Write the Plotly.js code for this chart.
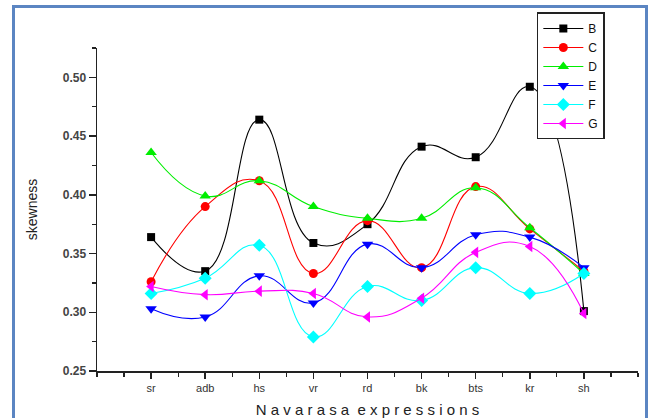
<!DOCTYPE html>
<html><head><meta charset="utf-8">
<script src="https://cdn.plot.ly/plotly-3.0.1.min.js"></script>
<style>
html,body{margin:0;padding:0;background:#fff;}
#wrap{position:relative;width:651px;height:418px;overflow:hidden;}
#chart{position:absolute;left:0;top:0;width:651px;height:418px;}
#frame{position:absolute;left:12px;top:5px;width:630px;height:430px;border:3px solid #5b85c2;pointer-events:none;}
</style></head>
<body><div id="wrap"><div id="chart"></div><div id="frame"></div></div>
<script>
const categories = ["sr","adb","hs","vr","rd","bk","bts","kr","sh"];
const B = [0.364,0.335,0.464,0.359,0.375,0.441,0.432,0.492,0.301];
const C = [0.326,0.390,0.412,0.333,0.378,0.338,0.407,0.371,0.335];
const D = [0.436,0.399,0.412,0.390,0.380,0.380,0.406,0.372,0.333];
const E = [0.303,0.296,0.331,0.308,0.358,0.338,0.366,0.364,0.338];
const F = [0.316,0.329,0.357,0.279,0.322,0.310,0.338,0.316,0.333];
const G = [0.322,0.315,0.318,0.316,0.296,0.312,0.351,0.356,0.299];

const seriesNames = ["B","C","D","E","F","G"];
const seriesData = [B,C,D,E,F,G];
const colors = ["#000000","#ff0000","#00ee00","#0000ff","#00ffff","#ff00ff"];
const symbols = ["square","circle","triangle-up","triangle-down","diamond","triangle-left"];
const sizes = [8,9,10,10,10,10];
const idx = categories.map((c,i)=>i);

const traces = seriesData.map((d,k)=>({
  x: idx, y: d, name: seriesNames[k], type:'scatter', mode:'lines+markers',
  line:{color:colors[k], width:1.1, shape:'spline', smoothing:1.3},
  marker:{color:colors[k], symbol:symbols[k], size:sizes[k], line:{width:0}}
}));

const tf = {family:'Arial, Liberation Sans', size:12, color:'#444', weight:'bold'};
const layout = {
  width:651, height:418,
  margin:{l:97, r:13, t:43, b:47},
  paper_bgcolor:'#fff', plot_bgcolor:'#fff',
  showlegend:true,
  legend:{x:0.813, y:1.11, xanchor:'left', yanchor:'top', bgcolor:'#fff',
    bordercolor:'#222', borderwidth:1.5, font:{family:'Arial, Liberation Sans', size:12, color:'#111'},
    itemwidth:40, tracegroupgap:0},
  xaxis:{range:[-1,9], tickmode:'array', tickvals:idx, ticktext:categories,
    showgrid:false, zeroline:false, showline:true, linecolor:'#222', linewidth:1.5,
    ticks:'outside', ticklen:6, tickwidth:1.5, tickcolor:'#222',
    minor:{dtick:0.5, tick0:0, ticks:'outside', ticklen:4, tickwidth:1.2, tickcolor:'#222', showgrid:false},
    tickfont:{family:'Arial, Liberation Sans', size:11, color:'#333'},
    title:{text:'N a v a r a s a  e x p r e s s i o n s', font:{family:'Arial, Liberation Sans', size:15, color:'#222'}, standoff:12}},
  yaxis:{range:[0.25,0.525], tickmode:'array', tickvals:[0.25,0.30,0.35,0.40,0.45,0.50],
    ticktext:['0.25','0.30','0.35','0.40','0.45','0.50'],
    showgrid:false, zeroline:false, showline:true, linecolor:'#222', linewidth:1.5,
    ticks:'outside', ticklen:7, tickwidth:1.5, tickcolor:'#222',
    minor:{dtick:0.025, tick0:0.25, ticks:'outside', ticklen:4, tickwidth:1.2, tickcolor:'#222', showgrid:false},
    tickfont:tf,
    title:{text:'skewness', font:{family:'Arial, Liberation Sans', size:14, color:'#222'}, standoff:22}}
};
Plotly.newPlot('chart', traces, layout, {displayModeBar:false, staticPlot:true});
</script></body></html>
